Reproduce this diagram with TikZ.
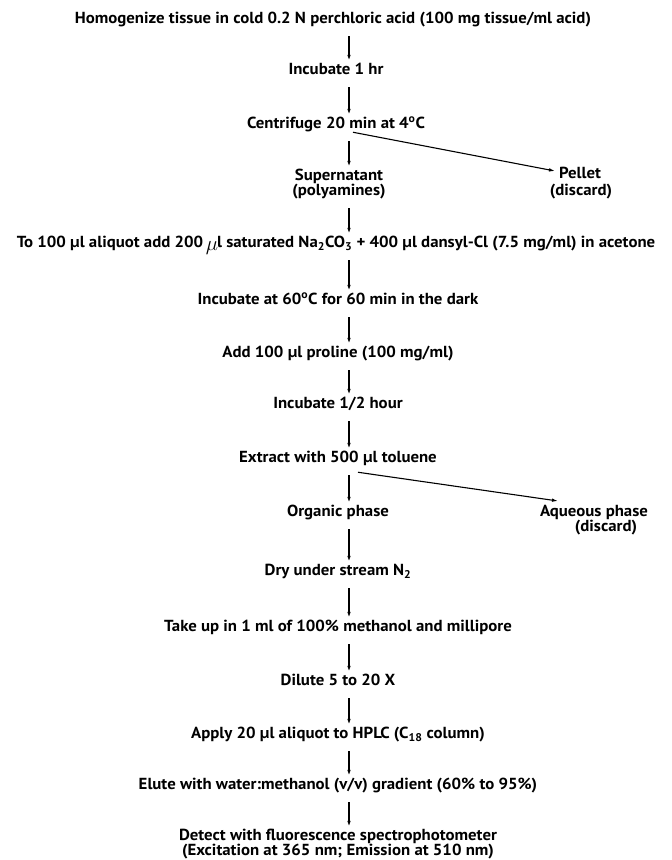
\documentclass[tikz,border=0pt]{standalone}
\usepackage{fontspec}
\setmainfont[FakeStretch=1.05]{PT Sans}
\usetikzlibrary{arrows.meta,calc}
\begin{document}
\begin{tikzpicture}[x=1pt,y=-1pt,
  every node/.style={font=\bfseries\fontsize{16}{18}\selectfont, inner sep=0pt, outer sep=0pt, text height=11pt, text depth=3.5pt},
  flow/.style={-{Latex[length=6pt,width=3.6pt]}, line width=1.2pt, shorten <=9pt, shorten >=3pt},
  side/.style={-{Latex[length=6pt,width=3.6pt]}, line width=1.1pt}
]
\useasboundingbox (0,0) rectangle (672,860);
\coordinate (ax) at (349,0);
\node (s1) at (333,20) {Homogenize tissue in cold 0.2 N perchloric acid (100 mg tissue/ml acid)};
\node (s2) at (336,71) {Incubate 1 hr};
\node (s3) at (336,125) {Centrifuge 20 min at 4\textsuperscript{o}C};
\node (s4a) at (339,177) {Supernatant};
\node (s4b) at (339,192) {(polyamines)};
\node (p1) at (580,175) {Pellet};
\node (p2) at (581,192) {(discard)};
\node (s5) at (336,244) {To 100 µl aliquot add 200\,\raisebox{-3pt}{\fontsize{22}{22}\selectfont$\mu$}\kern-1pt l saturated Na\textsubscript{2}CO\textsubscript{3} + 400 µl dansyl-Cl (7.5 mg/ml) in acetone};
\node (s6) at (338,301) {Incubate at 60\textsuperscript{o}C for 60 min in the dark};
\node (s7) at (338,354) {Add 100 µl proline (100 mg/ml)};
\node (s8) at (338,405) {Incubate 1/2 hour};
\node (s9) at (338,459) {Extract with 500 µl toluene};
\node (s10) at (338,513) {Organic phase};
\node (a1) at (594,513) {Aqueous phase};
\node (a2) at (606,528) {(discard)};
\node (s11) at (338,572) {Dry under stream N\textsubscript{2}};
\node (s12) at (338,628) {Take up in 1 ml of 100\% methanol and millipore};
\node (s13) at (338,682) {Dilute 5 to 20 X};
\node (s14) at (338,735) {Apply 20 µl aliquot to HPLC (C\textsubscript{18} column)};
\node (s15) at (338,786) {Elute with water:methanol (v/v) gradient (60\% to 95\%)};
\node (s16a) at (338,837) {Detect with fluorescence spectrophotometer};
\node (s16b) at (338,852) {(Excitation at 365 nm; Emission at 510 nm)};
\foreach \a/\b in {s1/s2,s2/s3,s3/s4a,s4b/s5,s5/s6,s6/s7,s7/s8,s8/s9,s9/s10,s10/s11,s11/s12,s12/s13,s13/s14,s14/s15,s15/s16a}
  \draw[flow] (\a.south -| ax) -- (\b.north -| ax);
\draw[side] ($(s3.south)+(17,0)$) -- ($(p1.center)+(-25,-4)$);
\draw[side] ($(s9.south)+(20,6)$) -- ($(a1.center)+(-36,-12)$);
\end{tikzpicture}
\end{document}
